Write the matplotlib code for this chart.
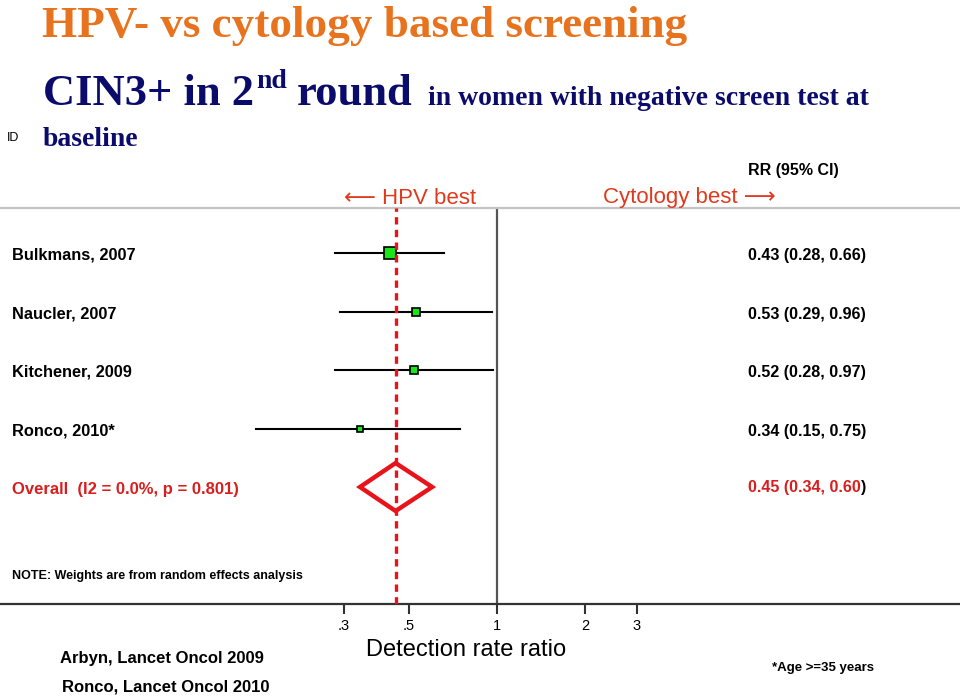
import numpy as np
import matplotlib
matplotlib.use("Agg")
import matplotlib.pyplot as plt
from matplotlib.patches import Polygon

# study data (relative risk, 95% CI, random-effects weight %)
studies = ["Bulkmans, 2007", "Naucler, 2007", "Kitchener, 2009", "Ronco, 2010*"]
rr = [0.43, 0.53, 0.52, 0.34]
ci_lo = [0.28, 0.29, 0.28, 0.15]
ci_hi = [0.66, 0.96, 0.97, 0.75]
weights = [44.0, 22.5, 20.9, 12.5]

overall_label = "Overall  (I2 = 0.0%, p = 0.801)"
overall_rr = 0.45
overall_lo = 0.34
overall_hi = 0.60

tick_vals = [0.3, 0.5, 1, 2, 3]
tick_labels = [".3", ".5", "1", "2", "3"]

W, H = 960, 698
SANS = "Liberation Sans"
SERIF = "Liberation Serif"
NAVY = "#0b0b6b"
ORANGE = "#e8731e"
RED = "#e8141b"
LABEL_RED = "#e03a1e"


def fx(px):
    return px / W


def fy(py):
    return 1 - py / H


fig = plt.figure(figsize=(9.6, 6.98), dpi=100)

# forest plot axes: 208 px to 604 px vertically, full width
ax = fig.add_axes([0, fy(604), 1, (604 - 208) / H])
ax.set_xscale("log")
ax.set_xlim(np.exp(-497 / 127), np.exp(463 / 127))
ax.set_ylim(6.0, -0.77)
ax.set_facecolor("white")

for s in ["left", "right"]:
    ax.spines[s].set_visible(False)
ax.spines["top"].set_color("#c4c4c4")
ax.spines["top"].set_linewidth(1.6)
ax.spines["bottom"].set_color("#333333")
ax.spines["bottom"].set_linewidth(1.6)

ax.yaxis.set_visible(False)
ax.xaxis.set_minor_locator(matplotlib.ticker.NullLocator())
ax.set_xticks(tick_vals)
ax.set_xticklabels(tick_labels, fontfamily=SANS, fontsize=10.5)
ax.tick_params(axis="x", length=7, width=1.5, color="#333333", pad=4)

rows = np.arange(len(studies))

# null line and overall effect line
ax.axvline(1, color="#555555", lw=1.6, zorder=1)
ax.axvline(overall_rr, color=RED, lw=2.4, ls=(0, (2.2, 1.6)), zorder=4)

# confidence intervals and weighted squares
for i in rows:
    ax.plot([ci_lo[i], ci_hi[i]], [i, i], color="black", lw=1.5, zorder=2)
    ax.plot(rr[i], i, marker="s", ms=1.2 * np.sqrt(weights[i]),
            mfc="#19e619", mec="black", mew=1.2, zorder=3)

# overall diamond
yo = len(studies)
h = 0.41
diamond = Polygon([(overall_lo, yo), (overall_rr, yo - h), (overall_hi, yo),
                   (overall_rr, yo + h)], closed=True, fill=False,
                  edgecolor=RED, lw=3.2, joinstyle="miter", zorder=5)
ax.add_patch(diamond)

trans = ax.get_yaxis_transform()
for i in rows:
    ax.text(0.0125, i + 0.04, studies[i], transform=trans, ha="left",
            va="center", fontfamily=SANS, fontweight="bold", fontsize=11.8)
    ax.text(748 / W, i + 0.05,
            f"{rr[i]:.2f} ({ci_lo[i]:.2f}, {ci_hi[i]:.2f})",
            transform=trans, ha="left", va="center", fontfamily=SANS,
            fontweight="bold", fontsize=11.6)

ax.text(0.0125, yo + 0.05, overall_label, transform=trans, ha="left",
        va="center", fontfamily=SANS, fontweight="bold", fontsize=12,
        color="#d81e1e")
t_ov = ax.text(748 / W, yo, f"{overall_rr:.2f} ({overall_lo:.2f}, {overall_hi:.2f}",
               transform=trans, ha="left", va="center", fontfamily=SANS,
               fontweight="bold", fontsize=11.6, color="#d81e1e")

# headings
fig.text(fx(42), fy(37), "HPV- vs cytology based screening", fontfamily=SERIF,
         fontweight="bold", fontsize=32.5, color=ORANGE, va="baseline")

renderer = fig.canvas.get_renderer()


def chain(x_px, y_px, s, size):
    t = fig.text(fx(x_px), fy(y_px), s, fontfamily=SERIF, fontweight="bold",
                 fontsize=size, color=NAVY, va="baseline")
    return t.get_window_extent(renderer).x1


x = chain(43, 105, "CIN3+ in 2", 32)
x = chain(x + 2, 88, "nd", 20)
x = chain(x + 10, 105, "round", 32)
chain(x + 16, 105, "in women with negative screen test at", 20)
chain(43, 146, "baseline", 20)
fig.text(fx(7), fy(138), "ID", fontfamily=SANS, fontsize=9, va="center")

bb = t_ov.get_window_extent(renderer)
ax.text(bb.x1 / W, yo, ")", transform=trans, ha="left", va="center",
        fontfamily=SANS, fontweight="bold", fontsize=11.6, color="black")

arrow_fam = [SANS, "DejaVu Sans"]
fig.text(fx(748), fy(170), "RR (95% CI)", fontfamily=SANS, fontweight="bold",
         fontsize=11.5, va="center")
fig.text(fx(476), fy(198), "\u27f5 HPV best", fontfamily=arrow_fam,
         fontsize=16, color=LABEL_RED, va="center", ha="right")
fig.text(fx(603), fy(198), "Cytology best \u27f6", fontfamily=arrow_fam,
         fontsize=16, color=LABEL_RED, va="center", ha="left")

fig.text(fx(12), fy(576), "NOTE: Weights are from random effects analysis",
         fontfamily=SANS, fontweight="bold", fontsize=9, va="center")
fig.text(fx(466), fy(656), "Detection rate ratio", fontfamily=SANS,
         fontsize=17, ha="center", va="baseline")
fig.text(fx(60), fy(658), "Arbyn, Lancet Oncol 2009", fontfamily=SANS,
         fontweight="bold", fontsize=12, va="center")
fig.text(fx(62), fy(687), "Ronco, Lancet Oncol 2010", fontfamily=SANS,
         fontweight="bold", fontsize=12, va="center")
fig.text(fx(772), fy(668), "*Age >=35 years", fontfamily=SANS,
         fontweight="bold", fontsize=9.5, va="center")

fig.savefig("out.png", dpi=100, facecolor="white")
